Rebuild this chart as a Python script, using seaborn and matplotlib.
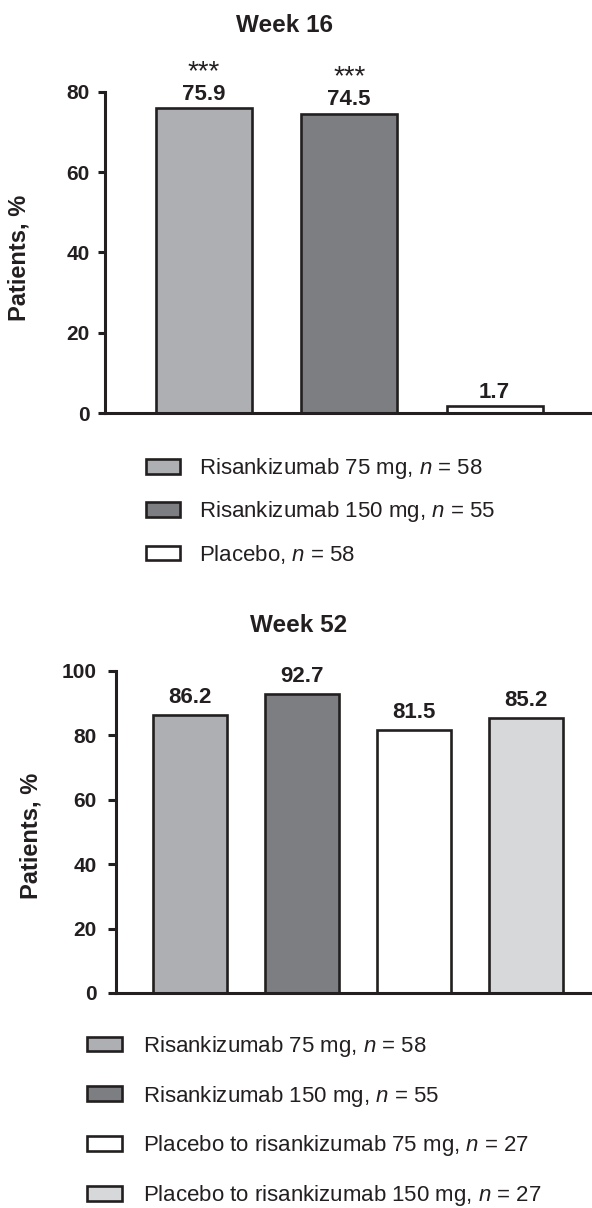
import matplotlib
matplotlib.use("Agg")
import matplotlib.pyplot as plt
import seaborn as sns
import pandas as pd

# ---- data ----
wk16_groups = ["Risankizumab 75 mg, $\\it{n}$ = 58",
               "Risankizumab 150 mg, $\\it{n}$ = 55",
               "Placebo, $\\it{n}$ = 58"]
wk16_values = [75.9, 74.5, 1.7]
wk16_stars = ["***", "***", ""]
wk16_colors = ["#aeafb3", "#7d7e82", "#ffffff"]
wk16_yticks = [0, 20, 40, 60, 80]

wk52_groups = ["Risankizumab 75 mg, $\\it{n}$ = 58",
               "Risankizumab 150 mg, $\\it{n}$ = 55",
               "Placebo to risankizumab 75 mg, $\\it{n}$ = 27",
               "Placebo to risankizumab 150 mg, $\\it{n}$ = 27"]
wk52_values = [86.2, 92.7, 81.5, 85.2]
wk52_colors = ["#aeafb3", "#7d7e82", "#ffffff", "#d7d8da"]
wk52_yticks = [0, 20, 40, 60, 80, 100]

INK = "#231f20"
W, H = 592, 1208

sns.set_theme(style="white")
plt.rcParams["font.family"] = ["Liberation Sans", "DejaVu Sans"]
plt.rcParams["mathtext.fontset"] = "custom"
plt.rcParams["mathtext.rm"] = "Liberation Sans"
plt.rcParams["mathtext.it"] = "Liberation Sans:italic"
plt.rcParams["text.color"] = INK

fig = plt.figure(figsize=(W / 100, H / 100), dpi=100)


def px_ax(left, right, top, bottom):
    return fig.add_axes([left / W, 1 - bottom / H, (right - left) / W, (bottom - top) / H])


def draw(ax, groups, values, colors, yticks, ymax, xlim, label_off, tick_len, tick_pad):
    df = pd.DataFrame({"group": groups, "value": values})
    sns.barplot(data=df, x="group", y="value", hue="group", order=groups,
                hue_order=groups, palette=dict(zip(groups, colors)), width=0.66,
                edgecolor=INK, linewidth=1.9, saturation=1, legend=False, ax=ax)
    ax.set_xlim(*xlim)
    ax.set_ylim(0, ymax)
    ax.set_xticks([])
    ax.set_yticks(yticks)
    ax.set_xlabel("")
    ax.set_ylabel("")
    for s in ["top", "right"]:
        ax.spines[s].set_visible(False)
    for s in ["left", "bottom"]:
        ax.spines[s].set_linewidth(2.2)
        ax.spines[s].set_color(INK)
    ax.tick_params(axis="y", left=True, direction="out", length=tick_len, width=2.2,
                   color=INK, pad=tick_pad, labelsize=15, labelcolor=INK)
    for t in ax.get_yticklabels():
        t.set_fontweight("bold")
    for i, v in enumerate(values):
        ax.annotate(f"{v}", (i, v), xytext=(0, label_off), textcoords="offset points",
                    ha="center", va="baseline", fontsize=16, fontweight="bold",
                    color=INK, annotation_clip=False)
    return ax


# ---- Week 16 ----
ax1 = px_ax(105, 592, 91.7, 413)
draw(ax1, wk16_groups, wk16_values, wk16_colors, wk16_yticks, 80, (-0.68, 2.67), 6.2, 5, 6)
for i, (v, s) in enumerate(zip(wk16_values, wk16_stars)):
    if s:
        ax1.annotate(s, (i, v), xytext=(0, 21), textcoords="offset points",
                     ha="center", va="baseline", fontsize=20, color=INK,
                     annotation_clip=False)
fig.text(285 / W, 1 - 32 / H, "Week 16", ha="center", va="baseline",
         fontsize=17.5, fontweight="bold")
fig.text(19.5 / W, 1 - 258 / H, "Patients, %", rotation=90, ha="center", va="center",
         fontsize=17, fontweight="bold")
h1 = list(ax1.patches)[:len(wk16_groups)]
fig.legend(h1, wk16_groups, loc="center left", bbox_to_anchor=(146 / W, 1 - 511 / H),
           frameon=False, fontsize=16, handlelength=1.53, handleheight=0.63,
           handletextpad=0.86, labelspacing=0.83, borderpad=0, borderaxespad=0,
           labelcolor=INK)

# ---- Week 52 ----
ax2 = px_ax(116, 592, 670.7, 993)
draw(ax2, wk52_groups, wk52_values, wk52_colors, wk52_yticks, 100, (-0.663, 3.587), 8.6, 6, 8)
fig.text(299 / W, 1 - 632 / H, "Week 52", ha="center", va="baseline",
         fontsize=17.5, fontweight="bold")
fig.text(31 / W, 1 - 836 / H, "Patients, %", rotation=90, ha="center", va="center",
         fontsize=17, fontweight="bold")
h2 = list(ax2.patches)[:len(wk52_groups)]
fig.legend(h2, wk52_groups, loc="center left", bbox_to_anchor=(87 / W, 1 - 1121 / H),
           frameon=False, fontsize=16, handlelength=1.56, handleheight=0.63,
           handletextpad=0.95, labelspacing=1.12, borderpad=0, borderaxespad=0,
           labelcolor=INK)

fig.savefig("out.png", dpi=100)
